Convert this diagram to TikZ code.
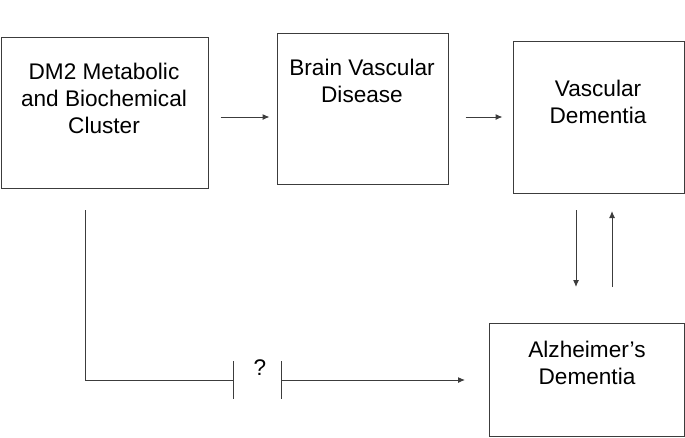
\documentclass[tikz,border=0pt]{standalone}
\usepackage{fontspec}
\setmainfont{Liberation Sans}
\usepackage{tikz}
\usetikzlibrary{calc, shapes, arrows.meta}
\definecolor{edgegray}{RGB}{60,60,60}
\tikzstyle{stage} = [rectangle, draw=edgegray, line width=1pt, inner sep=0pt]
\tikzstyle{caption} = [align=center, anchor=base, inner sep=0pt, font=\fontsize{22.6}{27}\selectfont]
\tikzstyle{link} = [draw=edgegray, line width=1pt]

\begin{document}
\begin{tikzpicture}[x=1pt, y=-1pt, >={Latex[length=7pt, width=6pt]}]
        \useasboundingbox (0, 0) rectangle (685, 437);
        \node[stage, minimum width=207pt, minimum height=151pt] at (104.5, 112.5) (DM2) {};
        \node[caption] at (104, 133) (DM2text) {DM2 Metabolic\\and Biochemical\\Cluster};

        \node[stage, minimum width=171pt, minimum height=151pt] at (362.5, 108.5) (BVD) {};
        \node[caption] at (362, 102) (BVDtext) {Brain Vascular\\Disease};

        \node[stage, minimum width=171pt, minimum height=152pt] at (598.5, 117) (VD) {};
        \node[caption] at (598, 123.5) (VDtext) {Vascular\\Dementia};

        \node[stage, minimum width=195pt, minimum height=113pt] at (586.5, 379.5) (AD) {};
        \node[caption] at (587, 384.5) (ADtext) {Alzheimer's\\Dementia};

        \node[caption] at (260, 375) (unknown) {?};

        \coordinate (down_top) at (576, 210);
        \coordinate (down_end) at (576, 287);
        \coordinate (up_start) at (612, 287);
        \coordinate (up_top) at (612, 211);
        \coordinate (line_top) at (85, 210);
        \coordinate (bar_left) at (233, 380);
        \coordinate (bar_right) at (281, 380);
        \coordinate (line_end) at (465, 380);

        \draw[link, ->, shorten <=12pt, shorten >=7pt] (DM2.east |- 0, 117) -- (BVD.west |- 0, 117);
        \draw[link, ->, shorten <=17pt, shorten >=10pt] (BVD.east |- 0, 117) -- (VD.west |- 0, 117);
        \draw[link, ->] (down_top) -- (down_end);
        \draw[link, ->] (up_start) -- (up_top);
        \draw[link] (line_top) |- (bar_left);
        \draw[link] ($(bar_left) + (0, -19)$) -- ($(bar_left) + (0, 19)$);
        \draw[link] ($(bar_right) + (0, -19)$) -- ($(bar_right) + (0, 19)$);
        \draw[link, ->] (bar_right) -- (line_end);
    \end{tikzpicture}
\end{document}
